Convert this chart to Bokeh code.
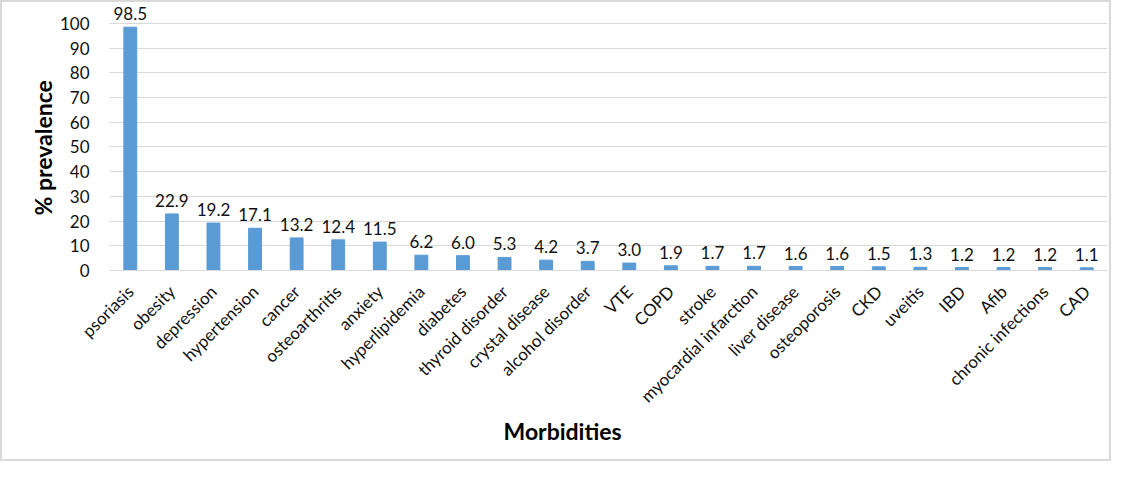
from bokeh.plotting import figure
from bokeh.models import ColumnDataSource, FixedTicker, Range1d, Title
from bokeh.embed import file_html
from bokeh.resources import INLINE
from bokeh.core.properties import value
import math

categories = ["psoriasis", "obesity", "depression", "hypertension", "cancer",
              "osteoarthritis", "anxiety", "hyperlipidemia", "diabetes",
              "thyroid disorder", "crystal disease", "alcohol disorder", "VTE",
              "COPD", "stroke", "myocardial infarction", "liver disease",
              "osteoporosis", "CKD", "uveitis", "IBD", "Afib",
              "chronic infections", "CAD"]
prevalence = [98.5, 22.9, 19.2, 17.1, 13.2, 12.4, 11.5, 6.2, 6.0, 5.3, 4.2, 3.7,
              3.0, 1.9, 1.7, 1.7, 1.6, 1.6, 1.5, 1.3, 1.2, 1.2, 1.2, 1.1]
labels = ["%.1f" % v for v in prevalence]
y_ticks = list(range(0, 101, 10))
x_title = "Morbidities"
y_title = "% prevalence"

FONT = "Lato"
TXT = "#111111"
src = ColumnDataSource(dict(cat=categories, val=prevalence, lab=labels))

p = figure(x_range=categories, y_range=Range1d(0, 108.5),
           width=1111, height=461, output_backend="svg", toolbar_location=None,
           min_border_left=107, min_border_right=6, min_border_top=0,
           min_border_bottom=193)

p.vbar(x="cat", top="val", width=0.31, source=src, color="#5B9BD5")
p.text(x="cat", y="val", text="lab", source=src, text_align="center",
       text_baseline="bottom", y_offset=-7, text_font=value(FONT),
       text_font_size="17px", text_color=TXT)

p.outline_line_color = None
p.background_fill_color = "white"
p.border_fill_color = "white"
p.styles = {"border": "2px solid #d9d9d9"}

p.xgrid.grid_line_color = None
p.ygrid.grid_line_color = "#d9d9d9"
p.ygrid.grid_line_width = 1
p.yaxis.ticker = FixedTicker(ticks=y_ticks)

p.yaxis.axis_line_color = None
p.yaxis.major_tick_line_color = None
p.yaxis.minor_tick_line_color = None
p.yaxis.major_label_text_font = FONT
p.yaxis.major_label_text_font_size = "17px"
p.yaxis.major_label_text_color = TXT
p.yaxis.major_label_standoff = 14

p.xaxis.axis_line_color = "#d9d9d9"
p.xaxis.major_tick_line_color = None
p.xaxis.minor_tick_line_color = None
p.xaxis.major_label_orientation = math.pi / 4
p.xaxis.major_label_text_font = FONT
p.xaxis.major_label_text_font_size = "17px"
p.xaxis.major_label_text_color = TXT
p.xaxis.major_label_standoff = 12
p.x_range.range_padding = 0

# axis titles as side titles, offset to sit where the reference puts them
p.add_layout(Title(text=x_title, align="left", offset=394, standoff=0,
                   vertical_align="top",
                   text_font=FONT, text_font_size="23px",
                   text_font_style="bold", text_color="#000000"), "below")
p.add_layout(Title(text=y_title, align="left", offset=55, standoff=0,
                   text_font=FONT, text_font_size="23px",
                   text_font_style="bold", text_color="#000000"), "left")

open("out.html", "w").write(file_html(p, INLINE))
